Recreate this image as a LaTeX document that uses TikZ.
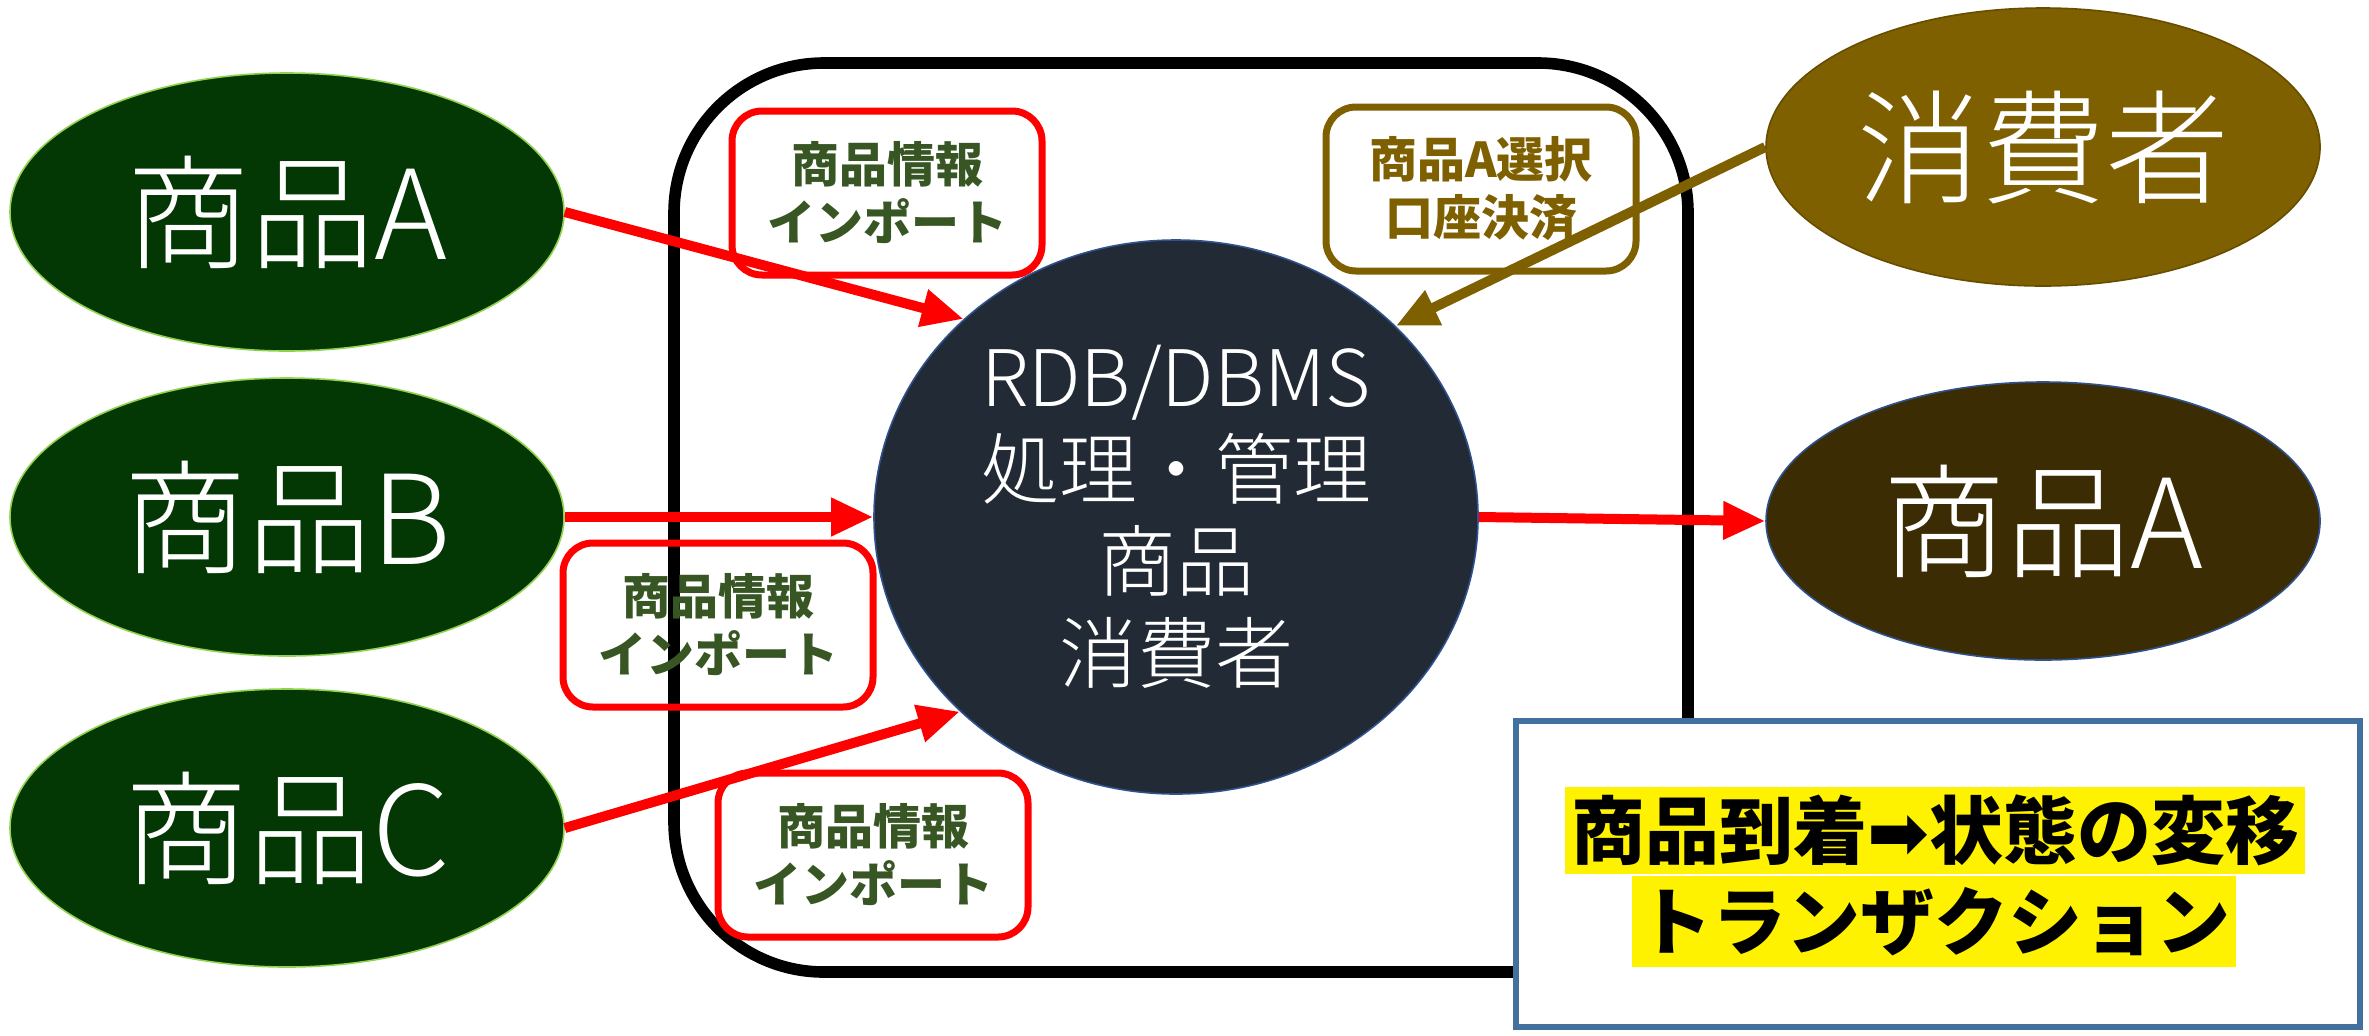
\documentclass[tikz,border=0pt]{standalone}
\usepackage{fontspec}
\setmainfont{Noto Sans CJK JP}
\newfontfamily\lightfont{Noto Sans CJK JP Light}
\newfontfamily\symfont{DejaVu Sans}
\usetikzlibrary{arrows.meta,shapes.geometric}
\definecolor{prodgreen}{RGB}{3,55,3}
\definecolor{prodedge}{RGB}{146,208,80}
\definecolor{consumer}{RGB}{127,96,0}
\definecolor{goodsbrown}{RGB}{59,44,3}
\definecolor{dbfill}{RGB}{34,42,53}
\definecolor{dbedge}{RGB}{47,82,143}
\definecolor{labelgreen}{RGB}{55,86,35}
\definecolor{boxblue}{RGB}{65,113,156}
\begin{document}
\begin{tikzpicture}[x=0.5pt,y=-0.5pt,
  bigell/.style={ellipse, minimum width=277pt, minimum height=139pt, inner sep=0pt, text=white, font=\lightfont\fontsize{62}{70}\selectfont},
  prod/.style={bigell, fill=prodgreen, draw=prodedge, line width=0.8pt},
  lab/.style={draw=red, line width=3.5pt, rounded corners=15pt, minimum width=155pt, minimum height=82pt, text=labelgreen, align=center, font=\bfseries\fontsize{24}{29}\selectfont},
  flow/.style={draw=red, line width=5pt, -{Triangle[length=21pt,width=18pt]}},
  hl/.style={fill=yellow, inner xsep=3pt, inner ysep=0pt, text=black, font=\bfseries\fontsize{37}{40}\selectfont},
]
\useasboundingbox (0,0) rectangle (2369,1035);
% container frame
\node[draw=black, line width=5.8pt, rounded corners=75pt, minimum width=507pt, minimum height=454.5pt] (frame) at (1181,517.5) {};
% labels
\node[lab] (l1) at (887,193) {商品情報\\インポート};
\node[lab] (l2) at (718,625) {商品情報\\インポート};
\node[lab] (l3) at (873,855) {商品情報\\インポート};
\node[lab, draw=consumer, text=consumer] (l4) at (1481,189) {商品A選択\\口座決済};
% product ellipses
\node[prod] (pa) at (287,212) {商品A};
\node[prod] (pb) at (287,517) {商品B};
\node[prod] (pc) at (287,828) {商品C};
% consumer and delivered goods
\node[bigell, fill=consumer, draw=consumer!80!black, line width=0.8pt] (cons) at (2043,147) {消費者};
\node[bigell, fill=goodsbrown, draw=dbedge, line width=0.8pt] (goods) at (2043,521) {商品A};
% database
\node[ellipse, fill=dbfill, draw=dbedge, line width=0.8pt, minimum width=302pt, minimum height=277pt, inner sep=0pt, text=white, align=center, font=\lightfont\fontsize{39}{46}\selectfont] (db) at (1176,517) {RDB/DBMS\\処理・管理\\商品\\消費者};
% connectors
\draw[flow] (pa.east) -- (db.137.4);
\draw[flow] (pb.east) -- (db.west);
\draw[flow] (pc.east) -- (db.222.6);
\draw[flow] (db.east) -- (goods.west);
\draw[flow, draw=consumer] (cons.west) -- (db.41.7);
% transaction box
\node[draw=boxblue, line width=3pt, fill=white, minimum width=422pt, minimum height=153pt] (tbox) at (1938,874) {};
\node[hl, minimum height=43.5pt] (t1) at (1935,830) {商品到着{\symfont\bfseries ➡}状態の変移};
\node[hl, minimum height=45.5pt] (t2) at (1934,921.5) {トランザクション};
\end{tikzpicture}
\end{document}
